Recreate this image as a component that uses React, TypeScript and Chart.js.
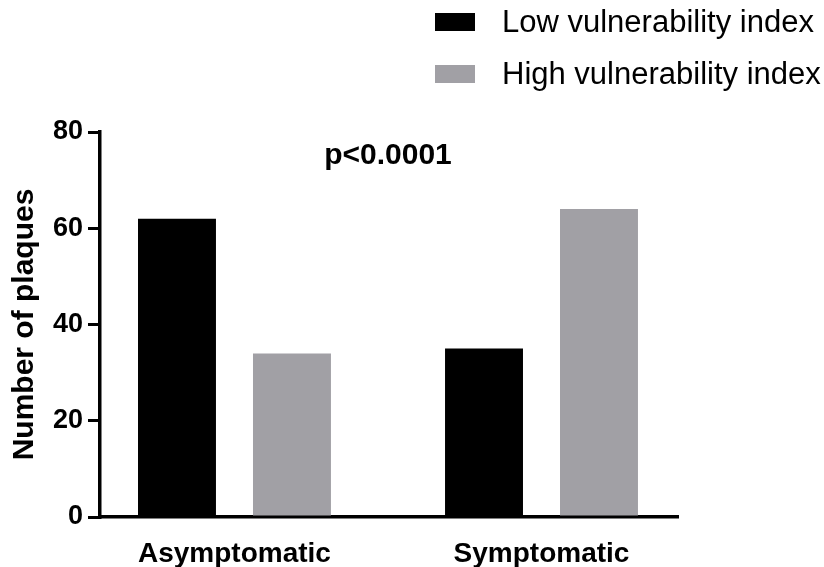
import React, { useEffect, useRef } from 'react';
import { Chart, registerables } from 'chart.js';

Chart.register(...registerables);

const categories = ['Asymptomatic', 'Symptomatic'];
const seriesNames = ['Low vulnerability index', 'High vulnerability index'];
const lowValues = [62, 35];
const highValues = [34, 64];
const yTicks = [0, 20, 40, 60, 80];
const pValueText = 'p<0.0001';
const seriesColors = ['#000000', '#a1a0a5'];

const FONT = "'Liberation Sans', Arial, Helvetica, sans-serif";

const legendPlugin = {
  id: 'customLegend',
  afterDraw(chart: any) {
    const ctx = chart.ctx;
    ctx.save();
    const boxX = 435;
    const boxW = 40;
    const boxH = 18;
    const textX = 502;
    const firstY = 22;
    const rowGap = 52;
    chart.data.datasets.forEach((ds: any, i: number) => {
      const cy = firstY + i * rowGap;
      ctx.fillStyle = ds.backgroundColor;
      ctx.fillRect(boxX, cy - boxH / 2, boxW, boxH);
      ctx.fillStyle = '#000';
      ctx.font = `31px ${FONT}`;
      ctx.textAlign = 'left';
      ctx.textBaseline = 'middle';
      ctx.fillText(ds.label, textX, cy + 1);
    });
    ctx.restore();
  },
};

const pValuePlugin = {
  id: 'pValue',
  afterDraw(chart: any) {
    const ctx = chart.ctx;
    const xs = chart.scales.x;
    const ys = chart.scales.y;
    ctx.save();
    ctx.fillStyle = '#000';
    ctx.font = `bold 30px ${FONT}`;
    ctx.textAlign = 'center';
    ctx.textBaseline = 'middle';
    ctx.fillText(pValueText, xs.getPixelForValue((categories.length - 1) / 2), ys.getPixelForValue(75));
    ctx.restore();
  },
};

export default function App() {
  const canvasRef = useRef<HTMLCanvasElement | null>(null);

  useEffect(() => {
    if (!canvasRef.current) return;
    const toPoints = (vals: number[]) => vals.map((v, i) => ({ x: i, y: v }));
    const chart = new Chart(canvasRef.current, {
      type: 'bar',
      data: {
        datasets: [
          {
            label: seriesNames[0],
            data: toPoints(lowValues) as any,
            backgroundColor: seriesColors[0],
            borderWidth: 0,
          },
          {
            label: seriesNames[1],
            data: toPoints(highValues) as any,
            backgroundColor: seriesColors[1],
            borderWidth: 0,
          },
        ],
      },
      options: {
        animation: false,
        responsive: false,
        events: [],
        categoryPercentage: 0.749,
        barPercentage: 0.678,
        layout: { padding: { top: 132, right: 146, left: 0, bottom: 0 } },
        plugins: {
          legend: { display: false },
          tooltip: { enabled: false },
          title: { display: false },
        },
        scales: {
          x: {
            type: 'linear',
            min: -0.438,
            max: 1.4446,
            offset: false,
            grid: { display: false },
            border: { display: true, color: '#000', width: 3.5 },
            afterBuildTicks: (scale: any) => {
              scale.ticks = categories.map((_, i) => ({ value: i }));
            },
            afterFit: (scale: any) => {
              scale.height = 50;
            },
            ticks: {
              autoSkip: false,
              maxRotation: 0,
              minRotation: 0,
              padding: 12,
              color: '#000',
              font: { family: FONT, size: 28, weight: 'bold' },
              callback: (v: any) => categories[v] ?? '',
            },
          } as any,
          y: {
            min: 0,
            max: 80,
            afterBuildTicks: (scale: any) => {
              scale.ticks = yTicks.map((v) => ({ value: v }));
            },
            afterFit: (scale: any) => {
              scale.width = 100;
            },
            grid: {
              drawOnChartArea: false,
              drawTicks: true,
              tickLength: 12,
              lineWidth: 3,
              color: '#000',
            },
            border: { display: true, color: '#000', width: 3.5 },
            ticks: {
              padding: 5,
              color: '#000',
              font: { family: FONT, size: 27, weight: 'bold' },
            },
            title: {
              display: true,
              text: 'Number of plaques',
              color: '#000',
              padding: { top: 7, bottom: 0 },
              font: { family: FONT, size: 30, weight: 'bold' },
            },
          },
        },
      } as any,
      plugins: [legendPlugin, pValuePlugin],
    });
    return () => chart.destroy();
  }, []);

  return (
    <div style={{ position: 'absolute', left: 0, top: 0, width: 824, height: 567, background: '#fff' }}>
      <canvas ref={canvasRef} width={824} height={567} style={{ display: 'block' }} />
    </div>
  );
}
